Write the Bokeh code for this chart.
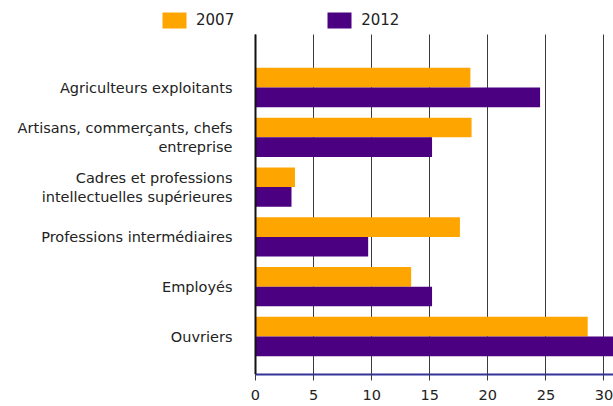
from bokeh.plotting import figure
from bokeh.models import ColumnDataSource, FixedTicker, Legend, LegendItem, Range1d
from bokeh.transform import dodge
from bokeh.embed import file_html
from bokeh.resources import INLINE

categories = [
    "Agriculteurs exploitants",
    "Artisans, commerçants, chefs\nentreprise",
    "Cadres et professions\nintellectuelles supérieures",
    "Professions intermédiaires",
    "Employés",
    "Ouvriers",
]
values_2007 = [18.5, 18.6, 3.4, 17.6, 13.4, 28.6]
values_2012 = [24.5, 15.2, 3.1, 9.7, 15.2, 31.0]
series_names = ["2007", "2012"]
x_ticks = [0, 5, 10, 15, 20, 25, 30]

n = len(categories)
pos = [n - 1 - i for i in range(n)]
src = ColumnDataSource(dict(pos=pos, v07=values_2007, v12=values_2012))

FONT = "DejaVu Sans"
ORANGE = "#FFA500"
PURPLE = "#4B0082"

X_END = 30.82
Y_BOTTOM = -0.763
Y_AXIS_TOP = n - 1 + 1.064

p = figure(width=613, height=406, output_backend="svg", toolbar_location=None,
           x_range=Range1d(-21.95, X_END), y_range=Range1d(Y_BOTTOM, n - 1 + 1.747),
           min_border_left=0, min_border_right=0, min_border_top=0, min_border_bottom=32)
p.outline_line_color = None
p.background_fill_color = "white"
p.border_fill_color = "white"

bh = 0.395
r07 = p.hbar(y=dodge("pos", bh / 2, range=p.y_range), right="v07", left=0, height=bh,
             source=src, fill_color=ORANGE, line_color=None)
r12 = p.hbar(y=dodge("pos", -bh / 2, range=p.y_range), right="v12", left=0, height=bh,
             source=src, fill_color=PURPLE, line_color=None)

# grid
p.ygrid.visible = False
p.xgrid.ticker = FixedTicker(ticks=x_ticks)
p.xgrid.grid_line_color = "#3a3a3a"
p.xgrid.grid_line_width = 1
p.xgrid.level = "underlay"
p.xgrid.bounds = (0, X_END)
p.xgrid.cross_bounds = (Y_BOTTOM, Y_AXIS_TOP)

# x axis
xa = p.xaxis[0]
xa.ticker = FixedTicker(ticks=x_ticks)
xa.bounds = (0, X_END)
xa.axis_line_color = "#333399"
xa.axis_line_width = 2
xa.major_tick_line_color = "#3a3a3a"
xa.major_tick_out = 6
xa.major_tick_in = 0
xa.minor_tick_line_color = None
xa.major_label_text_font = FONT
xa.major_label_text_font_size = "14.5px"
xa.major_label_text_color = "#222222"
xa.major_label_standoff = 9

# y axis (pinned at x = 0)
ya = p.yaxis[0]
ya.fixed_location = 0
ya.bounds = (Y_BOTTOM, Y_AXIS_TOP)
ya.ticker = FixedTicker(ticks=pos)
ya.major_label_overrides = {pv: c for pv, c in zip(pos, categories)}
ya.axis_line_color = "#111111"
ya.axis_line_width = 2
ya.major_tick_line_color = None
ya.minor_tick_line_color = None
ya.major_tick_out = 0
ya.major_tick_in = 0
ya.major_label_text_font = FONT
ya.major_label_text_font_size = "14.5px"
ya.major_label_text_color = "#222222"
ya.major_label_standoff = 23

legend = Legend(items=[LegendItem(label=series_names[0], renderers=[r07]),
                       LegendItem(label=series_names[1], renderers=[r12])],
                orientation="horizontal", location=(159, 344),
                glyph_width=30, glyph_height=20, label_standoff=7, spacing=90,
                padding=0, margin=0, border_line_color=None, background_fill_alpha=0,
                label_text_font=FONT, label_text_font_size="15px", label_text_color="#222222",
                label_height=20)
p.add_layout(legend, "center")

open("out.html", "w").write(file_html(p, INLINE))
